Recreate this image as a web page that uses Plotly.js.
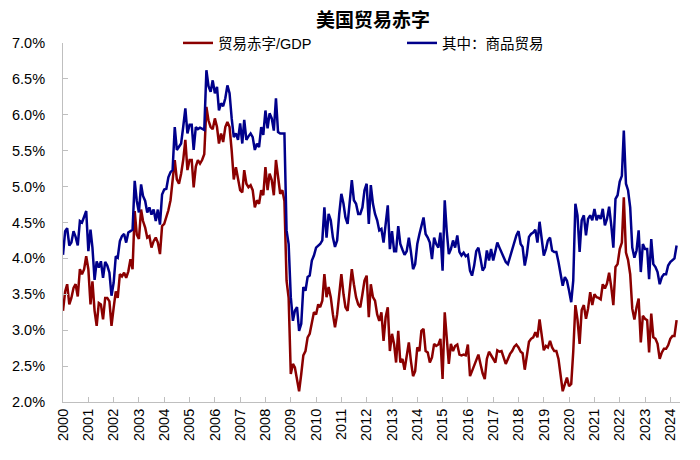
<!DOCTYPE html>
<html>
<head>
<meta charset="utf-8">
<script src="https://cdn.plot.ly/plotly-3.0.1.min.js"></script>
<style>html,body{margin:0;padding:0;background:#fff;}</style>
</head>
<body>
<div id="chart" style="width:700px;height:460px;"></div>
<script>
// Monthly series, starting January 2000 (values in % of GDP)
const startYear = 2000;
const chartTitle = '美国贸易赤字';
const seriesNames = ['贸易赤字/GDP', '其中：商品贸易'];

const tradeDeficitGDP = [
  3.27, 3.54, 3.64, 3.36, 3.45, 3.59, 3.64, 3.47, 3.85, 3.78, 3.85, 4.03, // 2000
  3.85, 3.36, 3.68, 3.27, 3.06, 3.38, 3.36, 3.15, 3.45, 3.45, 3.40, 3.06, // 2001
  3.31, 3.54, 3.45, 3.78, 3.75, 3.80, 3.73, 3.82, 3.99, 3.85, 4.66, 4.33, // 2002
  4.27, 4.68, 4.52, 4.43, 4.29, 4.31, 4.15, 4.24, 4.29, 4.22, 4.06, 4.45, // 2003
  4.48, 4.57, 4.67, 4.81, 5.09, 5.37, 5.10, 5.04, 5.18, 5.37, 5.65, 5.23, // 2004
  5.37, 5.37, 4.99, 5.28, 5.37, 5.32, 5.37, 5.45, 6.11, 5.92, 5.83, 5.80, // 2005
  5.95, 5.83, 5.60, 5.74, 5.62, 5.83, 5.90, 5.83, 5.50, 5.10, 5.27, 5.10, // 2006
  4.95, 4.92, 5.23, 5.04, 4.99, 5.02, 4.95, 4.71, 4.81, 4.76, 4.95, 4.88, // 2007
  5.27, 4.95, 5.18, 5.09, 4.88, 5.37, 5.09, 4.90, 4.95, 4.80, 3.69, 3.45, // 2008
  2.39, 2.53, 2.48, 2.29, 2.15, 2.39, 2.65, 2.71, 2.90, 2.95, 3.13, 3.25, // 2009
  3.22, 3.36, 3.32, 3.41, 3.78, 3.46, 3.60, 3.46, 3.22, 3.04, 3.22, 3.46, // 2010
  3.78, 3.50, 3.32, 3.27, 3.60, 3.85, 3.64, 3.46, 3.36, 3.32, 3.50, 3.69, // 2011
  3.76, 3.18, 3.64, 3.46, 3.41, 3.22, 3.13, 3.25, 2.85, 3.18, 3.32, 2.71, // 2012
  2.95, 2.80, 2.55, 2.99, 2.55, 2.60, 2.45, 2.62, 2.83, 2.57, 2.36, 2.43, // 2013
  2.76, 2.71, 2.99, 3.02, 2.71, 2.69, 2.55, 2.62, 2.81, 2.78, 2.80, 2.88, // 2014
  2.32, 3.25, 2.90, 2.53, 2.81, 2.71, 2.78, 2.80, 2.66, 2.65, 2.66, 2.65, // 2015
  2.80, 2.36, 2.43, 2.50, 2.58, 2.66, 2.53, 2.40, 2.32, 2.60, 2.70, 2.65, // 2016
  2.60, 2.55, 2.72, 2.70, 2.71, 2.63, 2.53, 2.60, 2.67, 2.71, 2.77, 2.80, // 2017
  2.76, 2.70, 2.68, 2.45, 2.68, 2.84, 2.88, 2.90, 2.97, 2.90, 3.15, 2.90, // 2018
  2.72, 2.78, 2.76, 2.85, 2.76, 2.71, 2.71, 2.60, 2.40, 2.15, 2.25, 2.34, // 2019
  2.22, 2.25, 2.70, 3.35, 3.15, 2.81, 3.28, 3.35, 3.16, 3.30, 3.53, 3.35, // 2020
  3.50, 3.46, 3.45, 3.43, 3.64, 3.58, 3.65, 3.80, 3.60, 3.35, 3.88, 3.92, // 2021
  4.13, 4.22, 4.85, 4.08, 3.98, 3.78, 3.30, 3.15, 3.32, 3.44, 2.83, 3.20, // 2022
  3.16, 3.14, 2.69, 3.23, 2.90, 2.88, 2.81, 2.60, 2.69, 2.74, 2.74, 2.79, // 2023
  2.88, 2.92, 2.92, 3.14                                                  // 2024
];

const goodsDeficitGDP = [
  4.05, 4.38, 4.42, 4.18, 4.22, 4.38, 4.30, 4.18, 4.52, 4.50, 4.58, 4.66, // 2000
  4.10, 4.40, 4.15, 3.70, 3.96, 3.87, 3.96, 3.73, 3.95, 3.90, 3.80, 3.48, // 2001
  3.66, 4.03, 4.01, 4.24, 4.31, 4.34, 4.22, 4.36, 4.38, 4.40, 5.08, 4.80, // 2002
  4.64, 5.03, 4.87, 4.80, 4.64, 4.71, 4.61, 4.68, 4.52, 4.68, 4.47, 4.89, // 2003
  4.96, 4.97, 5.13, 5.20, 5.23, 5.83, 5.51, 5.55, 5.60, 5.83, 6.09, 5.74, // 2004
  5.86, 5.86, 5.51, 5.83, 5.80, 5.82, 5.80, 5.79, 6.62, 6.40, 6.32, 6.48, // 2005
  6.30, 6.39, 6.06, 6.16, 6.12, 6.23, 6.41, 6.30, 5.95, 5.69, 5.74, 5.65, // 2006
  5.88, 5.60, 5.93, 5.65, 5.70, 5.74, 5.69, 5.51, 5.60, 5.55, 5.83, 5.72, // 2007
  6.06, 5.81, 6.02, 5.95, 5.78, 6.23, 5.76, 5.74, 5.74, 5.74, 4.39, 4.20, // 2008
  3.46, 3.13, 3.27, 3.32, 2.99, 3.09, 3.60, 3.55, 3.74, 3.76, 3.97, 4.04, // 2009
  4.15, 4.18, 4.20, 4.25, 4.71, 4.29, 4.62, 4.53, 4.29, 4.16, 4.25, 4.62, // 2010
  4.90, 4.76, 4.57, 4.48, 4.81, 5.09, 4.81, 4.76, 4.62, 4.62, 4.71, 4.95, // 2011
  5.04, 4.48, 5.02, 4.76, 4.62, 4.53, 4.39, 4.41, 4.22, 4.48, 4.74, 4.13, // 2012
  4.38, 4.10, 4.10, 4.45, 4.20, 4.12, 4.05, 4.10, 4.29, 4.09, 3.85, 3.92, // 2013
  4.20, 4.34, 4.46, 4.57, 4.34, 4.29, 4.22, 3.99, 4.29, 4.20, 4.15, 4.36, // 2014
  3.83, 4.81, 4.39, 4.06, 4.13, 4.25, 4.15, 4.32, 4.09, 4.04, 4.08, 4.03, // 2015
  4.05, 3.83, 3.76, 3.90, 4.10, 4.15, 4.00, 3.83, 3.88, 4.11, 3.97, 4.13, // 2016
  3.97, 4.09, 4.22, 4.15, 4.09, 4.02, 3.95, 3.92, 4.02, 4.13, 4.22, 4.32, // 2017
  4.38, 4.20, 4.16, 3.90, 4.05, 4.30, 4.34, 4.36, 4.40, 4.22, 4.51, 4.25, // 2018
  4.04, 4.13, 4.25, 4.29, 4.11, 4.09, 4.09, 3.95, 3.80, 3.62, 3.74, 3.69, // 2019
  3.55, 3.39, 3.69, 4.76, 4.60, 4.09, 4.53, 4.60, 4.32, 4.55, 4.60, 4.53, // 2020
  4.69, 4.53, 4.60, 4.55, 4.69, 4.46, 4.55, 4.72, 4.46, 4.15, 4.83, 4.88, // 2021
  5.07, 5.15, 5.78, 5.04, 4.95, 4.71, 4.15, 4.01, 4.11, 4.39, 3.81, 4.20, // 2022
  4.13, 4.13, 3.71, 4.27, 3.92, 3.88, 3.81, 3.64, 3.74, 3.78, 3.78, 3.90, // 2023
  3.95, 3.97, 4.00, 4.18                                                  // 2024
];

const yearLabels = ['2000','2001','2002','2003','2004','2005','2006','2007','2008','2009','2010','2011','2012',
                    '2013','2014','2015','2016','2017','2018','2019','2020','2021','2022','2023','2024'];
const yTickValues = [2.0, 2.5, 3.0, 3.5, 4.0, 4.5, 5.0, 5.5, 6.0, 6.5, 7.0];

const monthDates = tradeDeficitGDP.map((_, i) => {
  const y = startYear + Math.floor(i / 12);
  const m = (i % 12) + 1;
  return y + '-' + String(m).padStart(2, '0') + '-01';
});

const latinFont = '"Liberation Sans", Arial, "Noto Sans CJK SC", sans-serif';
const cjkFont = '"Noto Sans CJK SC", "Liberation Sans", sans-serif';

const traces = [
  {
    x: monthDates, y: tradeDeficitGDP, name: seriesNames[0],
    type: 'scatter', mode: 'lines',
    line: {color: '#8B0000', width: 2.5}
  },
  {
    x: monthDates, y: goodsDeficitGDP, name: seriesNames[1],
    type: 'scatter', mode: 'lines',
    line: {color: '#00008B', width: 2.5}
  }
];

const layout = {
  width: 700, height: 460,
  paper_bgcolor: '#ffffff', plot_bgcolor: '#ffffff',
  margin: {l: 63, r: 20, t: 43, b: 58, pad: 0, autoexpand: false},
  title: {
    text: '<b>' + chartTitle + '</b>',
    font: {family: cjkFont, size: 19, color: '#000'},
    x: 373 / 700, xanchor: 'center', xref: 'container',
    y: 1 - 20 / 460, yanchor: 'middle', yref: 'container',
    automargin: false
  },
  showlegend: true,
  legend: {
    orientation: 'h',
    xref: 'container', yref: 'container',
    x: 178 / 700, xanchor: 'left',
    y: 1 - 43 / 460, yanchor: 'middle',
    font: {family: latinFont, size: 14.5, color: '#000'},
    bgcolor: 'rgba(0,0,0,0)',
    entrywidth: 179, entrywidthmode: 'pixels',
    itemwidth: 30,
    tracegroupgap: 0
  },
  xaxis: {
    type: 'date',
    range: ['2000-01-01', '2024-05-20'],
    tickvals: yearLabels.map(y => y + '-01-01'),
    ticktext: yearLabels,
    tickangle: -90,
    ticks: 'inside', ticklen: 5, tickcolor: '#bfbfbf', tickwidth: 1,
    showline: true, linecolor: '#bfbfbf', linewidth: 1,
    showgrid: false, zeroline: false,
    tickfont: {family: latinFont, size: 14.5, color: '#000'},
    fixedrange: true
  },
  yaxis: {
    range: [2.0, 7.0],
    tickvals: yTickValues,
    ticktext: yTickValues.map(v => v.toFixed(1) + '%'),
    ticks: 'inside', ticklen: 5, tickcolor: '#bfbfbf', tickwidth: 1,
    showline: true, linecolor: '#bfbfbf', linewidth: 1,
    showgrid: false, zeroline: false,
    ticklabelstandoff: 14,
    tickfont: {family: latinFont, size: 14.5, color: '#000'},
    fixedrange: true
  }
};

Plotly.newPlot('chart', traces, layout, {displayModeBar: false, staticPlot: true});
</script>
</body>
</html>
